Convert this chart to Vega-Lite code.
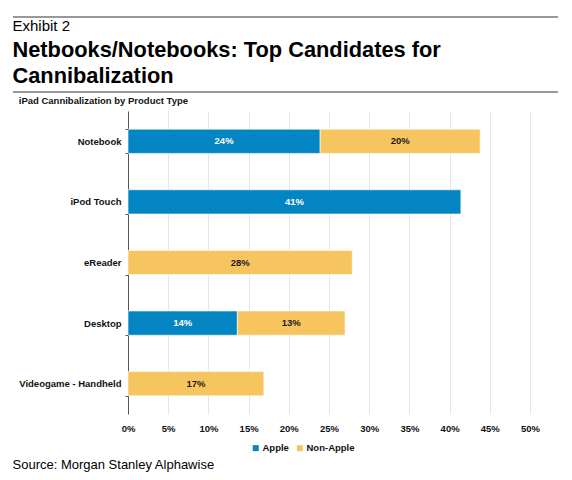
{
  "$schema": "https://vega.github.io/schema/vega-lite/v6.json",
  "background": "#ffffff",
  "padding": {"left": 12, "top": 16, "right": 15, "bottom": 0},
  "config": {
    "view": {"stroke": null},
    "font": "Liberation Sans",
    "title": {"anchor": "start", "frame": "bounds", "color": "#000000"}
  },
  "title": {
    "text": "Source: Morgan Stanley Alphawise",
    "orient": "bottom",
    "anchor": "start",
    "frame": "bounds",
    "fontSize": 13,
    "fontWeight": "normal",
    "offset": 6
  },
  "spacing": 1,
  "resolve": {"scale": {"color": "independent"}, "legend": {"color": "independent"}},
  "vconcat": [
    {
      "width": 545,
      "height": 1,
      "data": {"values": [{"rule": "top"}]},
      "mark": {"type": "rule", "color": "#333333", "strokeWidth": 1},
      "encoding": {
        "y": {"datum": 1, "type": "quantitative", "scale": {"domain": [0, 1]}, "axis": null}
      }
    },
    {
      "width": 545,
      "height": 2,
      "title": {
        "text": "Exhibit 2",
        "subtitle": ["Netbooks/Notebooks: Top Candidates for", "Cannibalization"],
        "fontSize": 15,
        "fontWeight": "normal",
        "subtitleFontSize": 21.8,
        "subtitleFontWeight": "bold",
        "subtitleColor": "#000000",
        "subtitlePadding": 6,
        "subtitleLineHeight": 25.7,
        "offset": 4
      },
      "data": {"values": [{"rule": "bottom"}]},
      "mark": {"type": "rule", "color": "#333333", "strokeWidth": 1},
      "encoding": {
        "y": {"datum": 1, "type": "quantitative", "scale": {"domain": [0, 1]}, "axis": null}
      }
    },
    {
      "spacing": 4,
      "resolve": {"scale": {"color": "independent"}, "legend": {"color": "independent"}},
      "hconcat": [
        {
          "width": 1,
          "height": 1,
          "data": {"values": [{"spacer": true}]},
          "mark": {"type": "rule", "opacity": 0},
          "encoding": {}
        },
        {
          "width": 402,
          "height": 303,
          "title": {
            "text": "iPad Cannibalization by Product Type",
            "fontSize": 9.5,
            "fontWeight": "bold",
            "color": "#111111",
            "offset": 1
          },
          "data": {
            "values": [
              {"product": "Notebook", "series": "Apple", "value": 0.239},
              {"product": "Notebook", "series": "Non-Apple", "value": 0.199},
              {"product": "iPod Touch", "series": "Apple", "value": 0.414},
              {"product": "eReader", "series": "Non-Apple", "value": 0.279},
              {"product": "Desktop", "series": "Apple", "value": 0.136},
              {"product": "Desktop", "series": "Non-Apple", "value": 0.134},
              {"product": "Videogame - Handheld", "series": "Non-Apple", "value": 0.169}
            ]
          },
          "transform": [
            {"stack": "value", "groupby": ["product"], "sort": [{"field": "series", "order": "ascending"}], "as": ["v0", "v1"]},
            {"calculate": "(datum.v0 + datum.v1) / 2", "as": "mid"}
          ],
          "encoding": {
            "y": {
              "field": "product",
              "type": "nominal",
              "sort": ["Notebook", "iPod Touch", "eReader", "Desktop", "Videogame - Handheld"],
              "scale": {"paddingInner": 0.6, "paddingOuter": 0.3},
              "axis": {
                "title": null,
                "domainColor": "#555555",
                "tickColor": "#555555",
                "tickSize": 3,
                "tickBand": "extent",
                "labelPadding": 4,
                "labelFontSize": 9.5,
                "labelFontWeight": "bold",
                "labelColor": "#111111",
                "labelLimit": 200,
                "grid": false
              }
            }
          },
          "layer": [
            {
              "mark": {"type": "bar", "stroke": "#ffffff", "strokeWidth": 0.6},
              "encoding": {
                "x": {
                  "field": "v0",
                  "type": "quantitative",
                  "scale": {"domain": [0, 0.5], "nice": false},
                  "axis": {
                    "title": null,
                    "format": ".0%",
                    "values": [0, 0.05, 0.1, 0.15, 0.2, 0.25, 0.3, 0.35, 0.4, 0.45, 0.5],
                    "grid": true,
                    "gridColor": "#e6e6e6",
                    "domain": false,
                    "ticks": false,
                    "tickSize": 0,
                    "labelPadding": 9,
                    "labelFontSize": 9.5,
                    "labelFontWeight": "bold",
                    "labelColor": "#111111",
                    "labelFlush": false
                  }
                },
                "x2": {"field": "v1"},
                "color": {
                  "field": "series",
                  "type": "nominal",
                  "scale": {"domain": ["Apple", "Non-Apple"], "range": ["#0385c3", "#f7c55f"]},
                  "legend": {
                    "orient": "none",
                    "legendX": 123,
                    "legendY": 332,
                    "direction": "horizontal",
                    "title": null,
                    "symbolType": "square",
                    "symbolSize": 36,
                    "symbolStrokeWidth": 0,
                    "labelFontSize": 9.5,
                    "labelFontWeight": "bold",
                    "labelColor": "#111111",
                    "labelOffset": 2,
                    "columnPadding": 6
                  }
                }
              }
            },
            {
              "mark": {"type": "text", "fontSize": 9.5, "fontWeight": "bold", "baseline": "middle", "align": "center"},
              "encoding": {
                "x": {"field": "mid", "type": "quantitative"},
                "text": {"field": "value", "type": "quantitative", "format": ".0%"},
                "color": {
                  "condition": {"test": "datum.series === 'Apple'", "value": "#ffffff"},
                  "value": "#1a1a1a"
                }
              }
            }
          ]
        }
      ]
    }
  ]
}
